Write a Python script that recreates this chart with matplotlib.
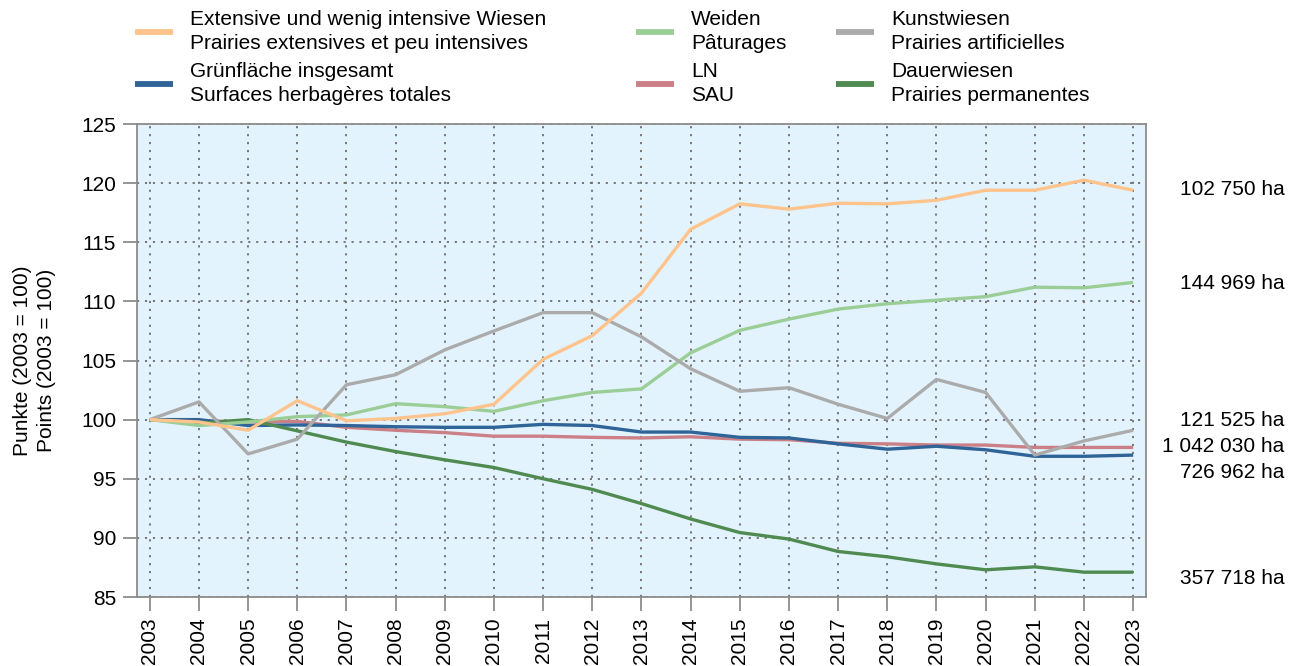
import matplotlib
matplotlib.use("Agg")
import matplotlib.pyplot as plt
from matplotlib.lines import Line2D

plt.rcParams['font.family'] = ['Liberation Sans', 'DejaVu Sans']
plt.rcParams['font.size'] = 15

years = list(range(2003, 2024))

extensive = [100, 99.8, 99.1, 101.6, 99.9, 100.1, 100.5, 101.3, 105.1, 107.1, 110.7, 116.1,
             118.25, 117.8, 118.3, 118.25, 118.55, 119.4, 119.4, 120.25, 119.4]
weiden = [100, 99.5, 99.8, 100.25, 100.4, 101.35, 101.1, 100.7, 101.6, 102.3, 102.6, 105.65,
          107.55, 108.5, 109.35, 109.8, 110.1, 110.4, 111.2, 111.15, 111.6]
kunstwiesen = [100, 101.5, 97.1, 98.35, 102.95, 103.8, 105.9, 107.5, 109.05, 109.05, 107.0, 104.3,
               102.4, 102.7, 101.3, 100.1, 103.4, 102.3, 97.0, 98.2, 99.1]
gruenflaeche = [100, 100, 99.5, 99.55, 99.5, 99.4, 99.35, 99.35, 99.6, 99.5, 98.95, 98.95,
                98.5, 98.45, 97.95, 97.5, 97.75, 97.45, 96.9, 96.9, 97.0]
ln = [100, 99.9, 99.8, 99.85, 99.35, 99.1, 98.9, 98.6, 98.6, 98.5, 98.45, 98.55,
      98.35, 98.3, 98.0, 97.95, 97.85, 97.85, 97.65, 97.65, 97.65]
dauerwiesen = [100, 99.7, 100, 99.05, 98.1, 97.3, 96.6, 95.95, 95.0, 94.1, 92.9, 91.6,
               90.45, 89.9, 88.85, 88.4, 87.8, 87.3, 87.55, 87.1, 87.1]

labels = {
    'ext': 'Extensive und wenig intensive Wiesen\nPrairies extensives et peu intensives',
    'gruen': 'Grünfläche insgesamt\nSurfaces herbagères totales',
    'weiden': 'Weiden\nPâturages',
    'ln': 'LN\nSAU',
    'kunst': 'Kunstwiesen\nPrairies artificielles',
    'dauer': 'Dauerwiesen\nPrairies permanentes',
}
colors = {
    'ext': '#FFC38C',
    'gruen': '#2F6499',
    'weiden': '#9BCE96',
    'ln': '#CA8086',
    'kunst': '#ABABAB',
    'dauer': '#4F8A50',
}

end_labels = ['102 750 ha', '144 969 ha', '121 525 ha', '1 042 030 ha', '726 962 ha', '357 718 ha']
end_label_y = [119.5, 111.55, 99.95, 97.7, 95.55, 86.6]

fig = plt.figure(figsize=(12.89, 6.66), dpi=100)
ax = fig.add_axes([0.1063, 0.1036, 0.7827, 0.7102])
ax.set_facecolor('#E3F3FD')

series = [('ln', ln), ('gruen', gruenflaeche), ('dauer', dauerwiesen),
          ('weiden', weiden), ('kunst', kunstwiesen), ('ext', extensive)]
for key, vals in series:
    ax.plot(years, vals, color=colors[key], lw=2.4, solid_capstyle='butt', zorder=3)

ax.set_xlim(2002.74, 2023.26)
ax.set_ylim(85, 125)
ax.set_xticks(years)
ax.set_xticklabels([str(y) for y in years], rotation=90)
ax.set_yticks(range(85, 126, 5))
ax.grid(True, color='#6E6E6E', linestyle=(0, (1.2, 3.2)), linewidth=1.3, zorder=1)
ax.set_axisbelow(True)
for s in ax.spines.values():
    s.set_color('#8C8C8C')
    s.set_linewidth(1.3)
ax.tick_params(axis='both', direction='out', length=10, width=1.3, color='#8C8C8C',
               labelsize=15, pad=5)
ax.set_ylabel('Punkte (2003 = 100)\nPoints (2003 = 100)', fontsize=15, labelpad=18,
              linespacing=1.35)

for txt, yv in zip(end_labels, end_label_y):
    ax.text(1.1375, yv, txt, transform=ax.get_yaxis_transform(), ha='right', va='center',
            fontsize=15, clip_on=False)

cols = [(['ext', 'gruen'], 135), (['weiden', 'ln'], 636), (['kunst', 'dauer'], 836)]
for keys, xpix in cols:
    handles = [Line2D([], [], color=colors[k], lw=4.2, solid_capstyle='butt') for k in keys]
    leg = fig.legend(handles, [labels[k] for k in keys], loc='upper left',
                     bbox_to_anchor=(xpix / 1289, 1 - 10 / 666), frameon=False,
                     borderpad=0, borderaxespad=0, handlelength=1.8, handletextpad=0.85,
                     labelspacing=0.45, fontsize=15)
    for t in leg.get_texts():
        t.set_linespacing(1.32)

fig.savefig('out.png', dpi=100)
